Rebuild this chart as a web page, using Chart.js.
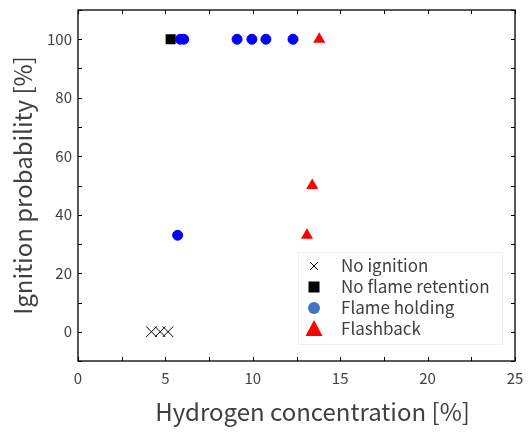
<!DOCTYPE html>
<html>
<head>
<meta charset="utf-8">
<script src="https://cdn.jsdelivr.net/npm/chart.js@4.4.1/dist/chart.umd.min.js"></script>
<style>
  body { margin: 0; background: #fff; }
  canvas { display: block; }
</style>
</head>
<body>
<canvas id="myChart" width="531" height="433"></canvas>
<script>
// datos
const noIgnitionX = [4.2, 4.7, 5.15];
const noIgnitionY = [0, 0, 0];
const noRetentionX = [5.3];
const noRetentionY = [100];
const flameHoldingX = [5.7, 5.85, 6.05, 9.1, 9.95, 10.75, 12.3];
const flameHoldingY = [33, 100, 100, 100, 100, 100, 100];
const flashbackX = [13.1, 13.4, 13.8];
const flashbackY = [33, 50, 100];

const legendLabels = ['No ignition', 'No flame retention', 'Flame holding', 'Flashback'];
const xTitle = 'Hydrogen concentration [%]';
const yTitle = 'Ignition probability [%]';

const textColor = '#404040';
const fontFamily = "'Noto Sans CJK JP', 'Noto Sans', sans-serif";

function toPoints(xs, ys) {
    return xs.map((x, i) => ({ x: x, y: ys[i] }));
}

// marco con marcas hacia adentro
const framePlugin = {
    id: 'frame',
    beforeDatasetsDraw(chart) {
        const { ctx, chartArea: a, scales } = chart;
        ctx.save();
        ctx.strokeStyle = '#000';
        ctx.lineWidth = 1;
        const len = 4;
        ctx.beginPath();
        scales.x.ticks.forEach(t => {
            const px = Math.round(scales.x.getPixelForValue(t.value)) + 0.5;
            ctx.moveTo(px, a.bottom); ctx.lineTo(px, a.bottom - len);
            ctx.moveTo(px, a.top); ctx.lineTo(px, a.top + len);
        });
        scales.y.ticks.forEach(t => {
            const py = Math.round(scales.y.getPixelForValue(t.value)) + 0.5;
            ctx.moveTo(a.left, py); ctx.lineTo(a.left + len, py);
            ctx.moveTo(a.right, py); ctx.lineTo(a.right - len, py);
        });
        ctx.stroke();
        ctx.lineWidth = 1.3;
        ctx.strokeRect(a.left, a.top, a.right - a.left, a.bottom - a.top);
        ctx.restore();
    }
};

// leyenda dentro del area del grafico y titulo del eje x
const legendPlugin = {
    id: 'innerLegend',
    afterDraw(chart) {
        const { ctx, chartArea: a } = chart;

        ctx.save();
        ctx.fillStyle = textColor;
        ctx.font = '24px ' + fontFamily;
        ctx.textAlign = 'center';
        ctx.textBaseline = 'middle';
        ctx.fillText(xTitle, (a.left + a.right) / 2 + 16, 412);
        ctx.restore();

        const bx = a.left + 220, by = a.top + 242, bw = 204, bh = 92;
        ctx.save();
        ctx.fillStyle = '#fff';
        ctx.fillRect(bx, by, bw, bh);
        ctx.strokeStyle = '#f0f0f0';
        ctx.lineWidth = 1;
        ctx.strokeRect(bx + 0.5, by + 0.5, bw, bh);
        const sx = bx + 16, tx = bx + 43;
        const rows = [by + 14, by + 35, by + 56, by + 77];
        // simbolos
        ctx.strokeStyle = '#000';
        ctx.lineWidth = 1;
        ctx.beginPath();
        ctx.moveTo(sx - 4, rows[0] - 4); ctx.lineTo(sx + 4, rows[0] + 4);
        ctx.moveTo(sx + 4, rows[0] - 4); ctx.lineTo(sx - 4, rows[0] + 4);
        ctx.stroke();
        ctx.fillStyle = '#000';
        ctx.fillRect(sx - 5.5, rows[1] - 5.5, 11, 11);
        ctx.fillStyle = '#4472C4';
        ctx.beginPath();
        ctx.arc(sx, rows[2], 6, 0, Math.PI * 2);
        ctx.fill();
        ctx.fillStyle = '#FF0000';
        ctx.beginPath();
        ctx.moveTo(sx, rows[3] - 9);
        ctx.lineTo(sx + 8.5, rows[3] + 7);
        ctx.lineTo(sx - 8.5, rows[3] + 7);
        ctx.closePath();
        ctx.fill();
        // textos
        ctx.fillStyle = textColor;
        ctx.font = '17px ' + fontFamily;
        ctx.textBaseline = 'middle';
        legendLabels.forEach((txt, i) => ctx.fillText(txt, tx, rows[i]));
        ctx.restore();
    }
};

// quitar el relleno automatico de las escalas
function noPad(s) {
    s.paddingTop = 0;
    s.paddingBottom = 0;
    s.paddingLeft = 0;
    s.paddingRight = 0;
}

const ctx = document.getElementById('myChart').getContext('2d');

new Chart(ctx, {
    type: 'scatter',
    data: {
        datasets: [
            {
                label: legendLabels[0],
                data: toPoints(noIgnitionX, noIgnitionY),
                pointStyle: 'crossRot',
                pointRadius: 7.5,
                borderColor: '#000',
                borderWidth: 1,
                order: 2,
            },
            {
                label: legendLabels[1],
                data: toPoints(noRetentionX, noRetentionY),
                pointStyle: 'rect',
                pointRadius: 7.1,
                backgroundColor: '#000',
                borderColor: '#000',
                borderWidth: 0,
                order: 2,
            },
            {
                label: legendLabels[2],
                data: toPoints(flameHoldingX, flameHoldingY),
                pointStyle: 'circle',
                pointRadius: 5,
                backgroundColor: '#0000FF',
                borderColor: '#0000FF',
                borderWidth: 1,
                order: 1,
            },
            {
                label: legendLabels[3],
                data: toPoints(flashbackX, flashbackY),
                pointStyle: 'triangle',
                pointRadius: 7,
                backgroundColor: '#FF0000',
                borderColor: '#FF0000',
                borderWidth: 0,
                order: 1,
            },
        ],
    },
    options: {
        responsive: false,
        animation: false,
        events: [],
        layout: { padding: { top: 10, right: 16, left: 0, bottom: 0 } },
        plugins: {
            legend: { display: false },
            tooltip: { enabled: false },
        },
        scales: {
            x: {
                type: 'linear',
                min: 0,
                max: 25,
                grid: { display: false, drawTicks: false },
                border: { display: false },
                ticks: {
                    stepSize: 2.5,
                    padding: 8,
                    color: textColor,
                    font: { family: fontFamily, size: 15 },
                    maxRotation: 0,
                    autoSkip: false,
                    callback: v => (v % 5 === 0 ? v : ''),
                },
                title: { display: false },
                afterFit: s => { s.height = 72; noPad(s); },
            },
            y: {
                type: 'linear',
                min: -10,
                max: 110,
                grid: { display: false, drawTicks: false },
                border: { display: false },
                ticks: {
                    stepSize: 10,
                    padding: 6,
                    color: textColor,
                    font: { family: fontFamily, size: 15 },
                    autoSkip: false,
                    callback: v => (v % 20 === 0 && v >= 0 && v <= 100 ? v : ''),
                },
                title: {
                    display: true,
                    text: yTitle,
                    color: textColor,
                    font: { family: fontFamily, size: 24 },
                    padding: { top: 8, bottom: 0 },
                },
                afterFit: s => { s.width = 78; noPad(s); },
            },
        },
    },
    plugins: [framePlugin, legendPlugin],
});
</script>
</body>
</html>
